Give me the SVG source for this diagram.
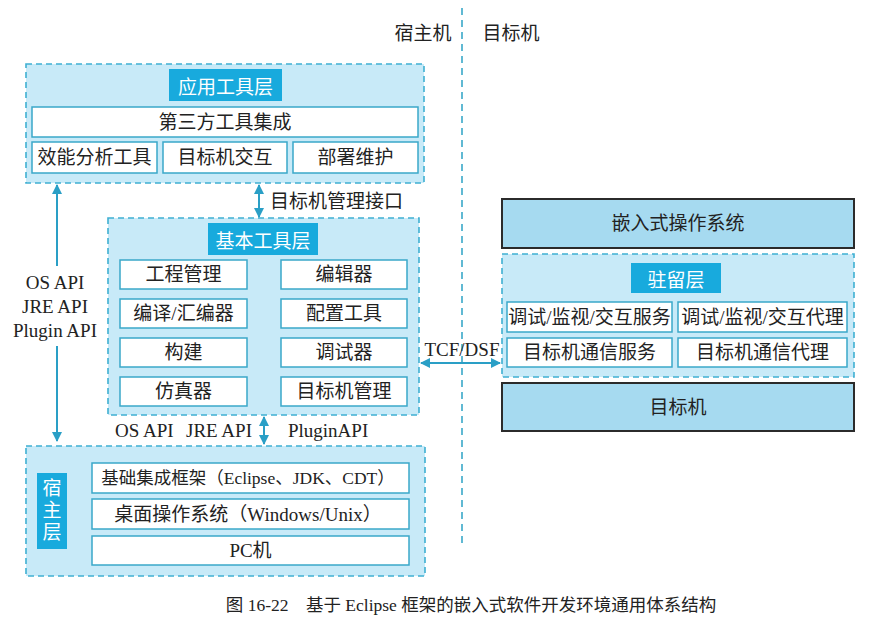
<svg xmlns="http://www.w3.org/2000/svg" width="874" height="633" viewBox="0 0 874 633">
<defs>
<style>
.cont{fill:#c8eaf8;stroke:#3fb0d2;stroke-width:1.6;stroke-dasharray:6 4}
.hdr{fill:#18aadd}
.hdrt{fill:#ffffff;font-family:"Noto Sans CJK SC",sans-serif;font-size:19px;text-anchor:middle;dominant-baseline:central}
.box{fill:#ffffff;stroke:#3aa8c9;stroke-width:1.5}
.sbox{fill:#a6daf0;stroke:#2b2b2b;stroke-width:2}
.t{fill:#222;font-family:"Liberation Serif","Noto Sans CJK SC",serif;font-size:19px;text-anchor:middle;dominant-baseline:central}
.l{fill:#222;font-family:"Liberation Serif","Noto Sans CJK SC",serif;font-size:19px;dominant-baseline:central}
.cap{fill:#222;font-family:"Liberation Serif","Noto Sans CJK SC",serif;font-size:17.5px;text-anchor:middle;dominant-baseline:central}
.arr{stroke:#2a9fc6;stroke-width:2;fill:none}
.vd{stroke:#3aa8c9;stroke-width:1.6;stroke-dasharray:7 5;fill:none}
</style>
<marker id="ah" viewBox="0 0 10 10" refX="9" refY="5" markerWidth="5" markerHeight="5" orient="auto-start-reverse">
<path d="M0,0 L10,5 L0,10 Z" fill="#2a9fc6"/>
</marker>
</defs>
<rect width="874" height="633" fill="#ffffff"/>

<g id="divider">
<line class="vd" x1="462" y1="8" x2="462" y2="543"/>
<text class="l" x="423" y="33" text-anchor="middle">宿主机</text>
<text class="l" x="511" y="33" text-anchor="middle">目标机</text>
</g>

<g id="app-layer">
<rect class="cont" x="26" y="64" width="398" height="119"/>
<rect class="hdr" x="169" y="69" width="113" height="32"/>
<text class="hdrt" x="225.5" y="85">应用工具层</text>
<rect class="box" x="32" y="107" width="386" height="30"/>
<text class="t" x="225" y="122">第三方工具集成</text>
<rect class="box" x="32" y="142" width="125" height="31"/>
<text class="t" x="94.5" y="157.5">效能分析工具</text>
<rect class="box" x="163" y="142" width="124" height="31"/>
<text class="t" x="225" y="157.5">目标机交互</text>
<rect class="box" x="293" y="142" width="125" height="31"/>
<text class="t" x="355.5" y="157.5">部署维护</text>
</g>

<g id="basic-layer">
<rect class="cont" x="108" y="218" width="311" height="197"/>
<rect class="hdr" x="208" y="223" width="110" height="32"/>
<text class="hdrt" x="263" y="239">基本工具层</text>
<rect class="box" x="120" y="260" width="127" height="29"/>
<text class="t" x="183.5" y="274.5">工程管理</text>
<rect class="box" x="281" y="260" width="126" height="29"/>
<text class="t" x="344" y="274.5">编辑器</text>
<rect class="box" x="120" y="299" width="127" height="29"/>
<text class="t" x="183.5" y="313.5">编译/汇编器</text>
<rect class="box" x="281" y="299" width="126" height="29"/>
<text class="t" x="344" y="313.5">配置工具</text>
<rect class="box" x="120" y="338" width="127" height="29"/>
<text class="t" x="183.5" y="352.5">构建</text>
<rect class="box" x="281" y="338" width="126" height="29"/>
<text class="t" x="344" y="352.5">调试器</text>
<rect class="box" x="120" y="377" width="127" height="29"/>
<text class="t" x="183.5" y="391.5">仿真器</text>
<rect class="box" x="281" y="377" width="126" height="29"/>
<text class="t" x="344" y="391.5">目标机管理</text>
</g>

<g id="host-layer">
<rect class="cont" x="26" y="446" width="399" height="130"/>
<rect class="hdr" x="37" y="473" width="30" height="76"/>
<text class="hdrt" x="52" y="511" writing-mode="vertical-rl" style="writing-mode:vertical-rl;text-orientation:upright" letter-spacing="3">宿主层</text>
<rect class="box" x="92" y="463" width="317" height="30"/>
<text class="t" x="248" y="478" style="font-size:17.5px">基础集成框架（Eclipse、JDK、CDT）</text>
<rect class="box" x="92" y="499" width="317" height="30"/>
<text class="t" x="248" y="514">桌面操作系统（Windows/Unix）</text>
<rect class="box" x="92" y="536" width="317" height="29"/>
<text class="t" x="250.5" y="550.5">PC机</text>
</g>

<g id="embedded-os">
<rect class="sbox" x="502" y="199" width="352" height="49"/>
<text class="t" x="678" y="223.5">嵌入式操作系统</text>
</g>

<g id="resident-layer">
<rect class="cont" x="502" y="254" width="352" height="123"/>
<rect class="hdr" x="631" y="263" width="90" height="30"/>
<text class="hdrt" x="676" y="278">驻留层</text>
<rect class="box" x="507" y="302" width="165" height="30"/>
<text class="t" x="589.5" y="317">调试/监视/交互服务</text>
<rect class="box" x="678" y="302" width="169" height="30"/>
<text class="t" x="762.5" y="317">调试/监视/交互代理</text>
<rect class="box" x="507" y="338" width="165" height="29"/>
<text class="t" x="589.5" y="352.5">目标机通信服务</text>
<rect class="box" x="678" y="338" width="169" height="29"/>
<text class="t" x="762.5" y="352.5">目标机通信代理</text>
</g>

<g id="target">
<rect class="sbox" x="502" y="383" width="352" height="48"/>
<text class="t" x="678" y="407">目标机</text>
</g>

<g id="connectors">
<line class="arr" x1="57" y1="185" x2="57" y2="441" marker-start="url(#ah)" marker-end="url(#ah)"/>
<rect x="8" y="266" width="98" height="80" fill="#ffffff"/>
<text class="l" x="55" y="282" text-anchor="middle">OS API</text>
<text class="l" x="55" y="306" text-anchor="middle">JRE API</text>
<text class="l" x="55" y="330" text-anchor="middle">Plugin API</text>
<line class="arr" x1="259" y1="185" x2="259" y2="217" marker-start="url(#ah)" marker-end="url(#ah)"/>
<text class="l" x="270" y="201">目标机管理接口</text>
<line class="arr" x1="264" y1="417" x2="264" y2="444" marker-start="url(#ah)" marker-end="url(#ah)"/>
<text class="l" x="115" y="430">OS API</text>
<text class="l" x="186" y="430">JRE API</text>
<text class="l" x="288" y="430">PluginAPI</text>
<line class="arr" x1="421" y1="363" x2="500" y2="363" marker-start="url(#ah)" marker-end="url(#ah)"/>
<text class="l" x="462" y="349" text-anchor="middle">TCF/DSF</text>
</g>

<text class="cap" x="471" y="605">图 16-22　基于 Eclipse 框架的嵌入式软件开发环境通用体系结构</text>
</svg>
